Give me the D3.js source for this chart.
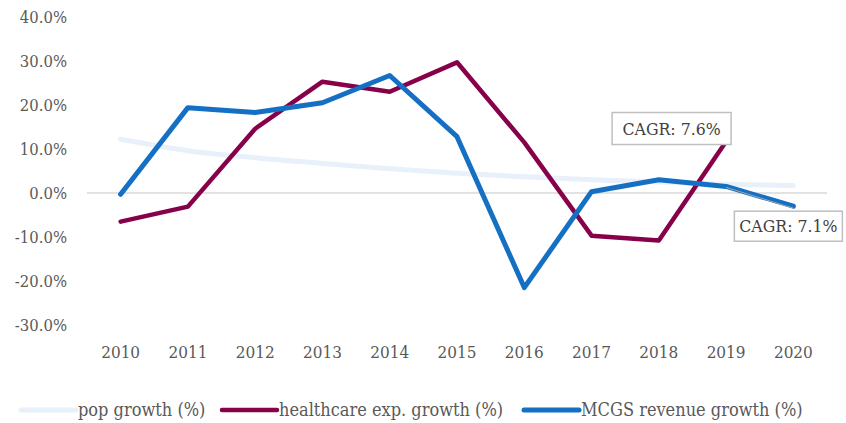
<!DOCTYPE html>
<html>
<head>
<meta charset="utf-8">
<script src="https://cdn.jsdelivr.net/npm/d3@7"></script>
<style>
  body { margin: 0; background: #fff; }
  svg text { font-family: "DejaVu Serif Condensed", "DejaVu Serif", serif; }
</style>
</head>
<body>
<svg id="chart" width="846" height="423"></svg>
<script>
// data
var years = ["2010", "2011", "2012", "2013", "2014", "2015", "2016", "2017", "2018", "2019", "2020"]
var popGrowth = [12.2, 9.6, 8.0, 6.7, 5.5, 4.5, 3.7, 3.0, 2.5, 2.0, 1.7]
var healthGrowth = [-6.5, -3.1, 14.6, 25.3, 23.0, 29.7, 11.5, -9.7, -10.8, 11.7, null]
var mcgsGrowth = [-0.3, 19.4, 18.3, 20.5, 26.7, 12.8, -21.5, 0.3, 3.0, 1.5, -3.0]
var yTicks = [-30, -20, -10, 0, 10, 20, 30, 40]
var seriesNames = ["pop growth (%)", "healthcare exp. growth (%)", "MCGS revenue growth (%)"]
var cagrLabels = ["CAGR: 7.6%", "CAGR: 7.1%"]

var svg = d3.select("#chart")
var textColor = "#595959"
var font = "DejaVu Serif Condensed, DejaVu Serif, serif"

var x = d3.scaleBand().domain(years).range([87, 827]).padding(0)
var cx = function (d) { return x(d) + x.bandwidth() / 2 }
var y = d3.scaleLinear().domain([-30, 40]).range([325, 17])

// y axis labels
var yAxis = d3.axisLeft(y).tickValues(yTicks).tickSize(0).tickPadding(0)
  .tickFormat(function (d) { return d.toFixed(1) + "%" })
var yg = svg.append("g").attr("transform", "translate(67,0)").call(yAxis)
yg.select(".domain").remove()
yg.selectAll("text").attr("fill", textColor).style("font-size", "16.5px").style("font-family", font)

// zero line
svg.append("line")
  .attr("x1", 87).attr("x2", 827)
  .attr("y1", y(0)).attr("y2", y(0))
  .attr("stroke", "#d9d9d9").attr("stroke-width", 1.5)

// x axis labels
var xAxis = d3.axisBottom(x).tickSize(0).tickPadding(0)
var xg = svg.append("g").attr("transform", "translate(0,346)").call(xAxis)
xg.select(".domain").remove()
xg.selectAll("text").attr("fill", textColor).style("font-size", "17px").style("font-family", font)

var series = [
  { name: seriesNames[0], values: popGrowth, color: "#e8f1f9", width: 5, curve: d3.curveMonotoneX },
  { name: seriesNames[1], values: healthGrowth, color: "#87004a", width: 4.5, curve: d3.curveLinear },
  { name: seriesNames[2], values: mcgsGrowth, color: "#1570c4", width: 5, curve: d3.curveLinear }
]

var line = function (curve) {
  return d3.line()
    .defined(function (d) { return d.v != null })
    .x(function (d) { return cx(d.year) })
    .y(function (d) { return y(d.v) })
    .curve(curve)
}

series.forEach(function (s) {
  var pts = years.map(function (yr, i) { return { year: yr, v: s.values[i] } })
  svg.append("path")
    .datum(pts)
    .attr("fill", "none")
    .attr("stroke", s.color)
    .attr("stroke-width", s.width)
    .attr("stroke-linejoin", "round")
    .attr("stroke-linecap", "round")
    .attr("d", line(s.curve))
})

// CAGR labels
var p1 = { x: cx("2019"), y: y(healthGrowth[9]) }
svg.append("rect").attr("x", p1.x - 114).attr("y", p1.y - 29).attr("width", 119).attr("height", 32)
  .attr("fill", "#fff").attr("stroke", "#bfbfbf").attr("stroke-width", 1.5)
svg.append("text").attr("x", p1.x - 54.5).attr("y", p1.y - 7).attr("text-anchor", "middle")
  .attr("fill", "#404040").style("font-size", "17.5px").text(cagrLabels[0])

var p2 = { x: cx("2020"), y: y(mcgsGrowth[10]) }
svg.append("line").attr("x1", cx("2019")).attr("y1", y(mcgsGrowth[9]) + 1)
  .attr("x2", p2.x).attr("y2", p2.y + 2)
  .attr("stroke", "#a6a6a6").attr("stroke-width", 1)
svg.append("rect").attr("x", p2.x - 59).attr("y", p2.y + 5).attr("width", 108).attr("height", 30)
  .attr("fill", "#fff").attr("stroke", "#bfbfbf").attr("stroke-width", 1.5)
svg.append("text").attr("x", p2.x - 5).attr("y", p2.y + 26).attr("text-anchor", "middle")
  .attr("fill", "#404040").style("font-size", "17.5px").text(cagrLabels[1])

// legend
var legendX = [21, 222, 524]
var lg = svg.append("g").attr("transform", "translate(0,410)")
series.forEach(function (s, i) {
  lg.append("line").attr("x1", legendX[i]).attr("x2", legendX[i] + 55)
    .attr("y1", 0).attr("y2", 0)
    .attr("stroke", s.color).attr("stroke-width", s.width).attr("stroke-linecap", "round")
  lg.append("text").attr("x", legendX[i] + 57).attr("y", 5.5)
    .attr("fill", textColor).style("font-size", "18px").text(s.name)
})
</script>
</body>
</html>
